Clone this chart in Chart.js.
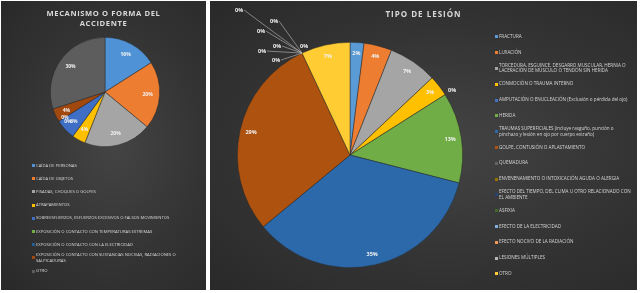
<!DOCTYPE html>
<html>
<head>
<meta charset="utf-8">
<script src="https://cdn.jsdelivr.net/npm/chart.js@4"></script>
<style>
  html, body { margin: 0; padding: 0; background: #fff; }
  body { width: 642px; height: 293px; position: relative; overflow: hidden; font-family: "Open Sans", "DejaVu Sans", sans-serif; }
  .panel { position: absolute; overflow: hidden; background: radial-gradient(ellipse at 55% 50%, #444 0%, #343434 55%, #292929 100%); }
  .panel canvas { position: absolute; left: 0; top: 0; }
  .title { position: absolute; left: 0; right: 0; text-align: center; color: #d9d9d9; font-weight: bold; letter-spacing: 1px; }
  .legend { position: absolute; color: #d6d6d6; font-size: 4.6px; line-height: 5.8px; }
  .legend .item { display: flex; align-items: center; position: relative; }
  .legend .box { position: absolute; width: 3px; height: 3px; }
</style>
</head>
<body>
<div class="panel" id="leftPanel" style="left:1px;top:1px;width:205px;height:289px;">
  <canvas id="mecanismoChart"></canvas>
  <div class="title" style="top:7px;font-size:7.6px;line-height:10px;letter-spacing:0.6px;">MECANISMO O FORMA DEL<br>ACCIDENTE</div>
  <div class="legend" id="mecanismoLegend" style="left:35px;top:158px;width:148px;font-size:4.2px;"></div>
</div>
<div class="panel" id="rightPanel" style="left:210px;top:1px;width:427px;height:289px;">
  <canvas id="tipoChart"></canvas>
  <div class="title" style="top:8px;font-size:8px;line-height:10px;">TIPO DE LESIÓN</div>
  <div class="legend" id="tipoLegend" style="left:289px;top:28px;width:132px;"></div>
</div>
<script>
const mecanismoLabels = [
  "CAÍDA DE PERSONAS",
  "CAÍDA DE OBJETOS",
  "PISADAS, CHOQUES O GOLPES",
  "ATRAPAMIENTOS",
  "SOBREESFUERZOS, ESFUERZOS EXCESIVOS O FALSOS MOVIMIENTOS",
  "EXPOSICIÓN O CONTACTO CON TEMPERATURAS EXTREMAS",
  "EXPOSICIÓN O CONTACTO CON LA ELECTRICIDAD",
  "EXPOSICIÓN O CONTACTO CON SUSTANCIAS NOCIVAS, RADIACIONES O SALPICADURAS",
  "OTRO",
];
const mecanismoValues = [16, 20, 20, 4, 6, 0, 0, 4, 30];

const tipoLabels = [
  "FRACTURA",
  "LUXACIÓN",
  "TORCEDURA, ESGUINCE, DESGARRO MUSCULAR, HERNIA O LACERACIÓN DE MÚSCULO O TENDÓN SIN HERIDA",
  "CONMOCIÓN O TRAUMA INTERNO",
  "AMPUTACIÓN O ENUCLEACIÓN (Exclusión o pérdida del ojo)",
  "HERIDA",
  "TRAUMAS SUPERFICIALES (incluye rasguño, punción o pinchazo y lesión en ojo por cuerpo extraño)",
  "GOLPE, CONTUSIÓN O APLASTAMIENTO",
  "QUEMADURA",
  "ENVENENAMIENTO O INTOXICACIÓN AGUDA O ALERGIA",
  "EFECTO DEL TIEMPO, DEL CLIMA U OTRO RELACIONADO CON EL AMBIENTE",
  "ASFIXIA",
  "EFECTO DE LA ELECTRICIDAD",
  "EFECTO NOCIVO DE LA RADIACIÓN",
  "LESIONES MÚLTIPLES",
  "OTRO",
];
const tipoValues = [2, 4, 7, 3, 0, 13, 35, 29, 0, 0, 0, 0, 0, 0, 0, 7];

const mecanismoColors = ["#4f93d6", "#ed7d31", "#a5a5a5", "#ffc000", "#3f6fc4", "#70ad47", "#255e91", "#a0480e", "#5d5d5d"];
const tipoColors = [
  "#5b9bd5", "#ed7d31", "#a5a5a5", "#ffc000", "#4472c4", "#70ad47", "#2b69ab", "#ae520f",
  "#636363", "#997300", "#264478", "#43682b", "#7cafdd", "#f1975a", "#b7b7b7", "#ffcd33",
];

// percentage labels, zero slices get a small label with a leader line
const pctLabels = {
  id: "pctLabels",
  afterDatasetsDraw(chart, args, opts) {
    const ctx = chart.ctx;
    const meta = chart.getDatasetMeta(0);
    const data = chart.data.datasets[0].data;
    const total = data.reduce((a, b) => a + b, 0);
    ctx.save();
    ctx.font = opts.font;
    ctx.fillStyle = "#f2f2f2";
    ctx.strokeStyle = "#bfbfbf";
    ctx.lineWidth = 0.6;
    ctx.textAlign = "center";
    ctx.textBaseline = "middle";
    meta.data.forEach((arc, i) => {
      const { x, y, startAngle, endAngle, outerRadius } = arc.getProps(
        ["x", "y", "startAngle", "endAngle", "outerRadius"], true);
      const mid = (startAngle + endAngle) / 2;
      const txt = Math.round((data[i] / total) * 100) + "%";
      if (data[i] > 0) {
        const r = outerRadius * opts.pos;
        ctx.fillText(txt, x + Math.cos(mid) * r, y + Math.sin(mid) * r);
      } else {
        const ax = x + Math.cos(mid) * outerRadius;
        const ay = y + Math.sin(mid) * outerRadius;
        const off = opts.zeroOffsets[i] || [6, -4];
        const lx = ax + off[0], ly = ay + off[1];
        if (off[2]) {
          ctx.beginPath();
          ctx.moveTo(ax, ay);
          ctx.lineTo(lx + 5, ly);
          ctx.stroke();
        }
        ctx.fillText(txt, lx, ly);
      }
    });
    ctx.restore();
  },
};

function buildLegend(el, labels, colors, pitch) {
  labels.forEach((label, i) => {
    const item = document.createElement("div");
    item.className = "item";
    item.style.height = pitch + "px";
    const box = document.createElement("span");
    box.className = "box";
    box.style.background = colors[i];
    box.style.left = "-4px";
    const text = document.createElement("span");
    text.textContent = label;
    item.append(box, text);
    el.appendChild(item);
  });
}

function makePie(id, labels, values, colors, padding, labelOpts) {
  new Chart(document.getElementById(id), {
    type: "pie",
    data: {
      labels,
      datasets: [{ data: values, backgroundColor: colors, borderColor: "rgba(40,40,40,0.7)", borderWidth: 0.7 }],
    },
    options: {
      responsive: true,
      maintainAspectRatio: false,
      animation: false,
      layout: { padding },
      plugins: {
        legend: { display: false },
        tooltip: { enabled: false },
        pctLabels: labelOpts,
      },
    },
    plugins: [pctLabels],
  });
}

document.addEventListener("DOMContentLoaded", () => {
  makePie("mecanismoChart", mecanismoLabels, mecanismoValues, mecanismoColors,
    { left: 49, right: 46, top: 36, bottom: 143 },
    { font: "bold 5px 'Open Sans'", pos: 0.78, zeroOffsets: { 5: [6, -4], 6: [9, 0] } });

  makePie("tipoChart", tipoLabels, tipoValues, tipoColors,
    { left: 27, right: 174, top: 41, bottom: 22 },
    { font: "bold 5.5px 'Open Sans'", pos: 0.9,
      zeroOffsets: {
        4: [7, -4],
        8: [-63, -43, 1], 9: [-28, -32, 1], 10: [-41, -22, 1], 11: [-25, -7, 1],
        12: [-40, -2, 1], 13: [-26, 7, 1], 14: [2, -7],
      } });

  buildLegend(document.getElementById("mecanismoLegend"), mecanismoLabels, mecanismoColors, 13.2);
  buildLegend(document.getElementById("tipoLegend"), tipoLabels, tipoColors, 15.8);
});
</script>
</body>
</html>
